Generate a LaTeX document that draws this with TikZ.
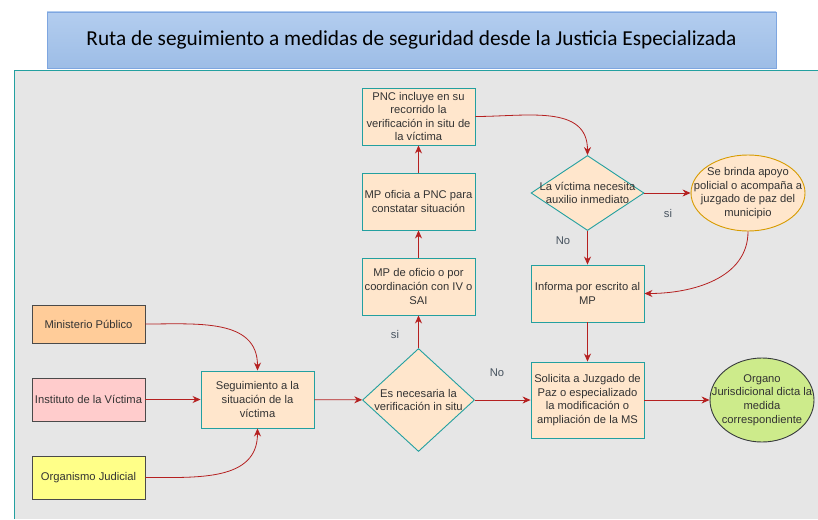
\documentclass[tikz,border=0pt]{standalone}
\usepackage{fontspec}
\setmainfont{Liberation Sans}
\newfontfamily\titlefont{Carlito}
\usetikzlibrary{arrows.meta,shapes.geometric}
\definecolor{peach}{HTML}{FFE6CC}
\definecolor{tealb}{HTML}{23A0A0}
\definecolor{arr}{HTML}{B52020}
\definecolor{txt}{HTML}{333333}
\definecolor{dk}{HTML}{4A4A4A}
\definecolor{bgg}{HTML}{E6E6E6}
\definecolor{mpfill}{HTML}{FFCC99}
\definecolor{ivfill}{HTML}{FFCCCC}
\definecolor{ojfill}{HTML}{FFFF88}
\definecolor{orgfill}{HTML}{CDEB8B}
\definecolor{orgdraw}{HTML}{36393D}
\definecolor{elldraw}{HTML}{D79B00}
\definecolor{titletop}{HTML}{B3CDEF}
\definecolor{titlebot}{HTML}{9DBDE6}
\definecolor{titledraw}{HTML}{7EA6E0}
\definecolor{yescol}{HTML}{46525E}
\tikzset{
  every node/.style={font=\fontsize{11.2}{13.6}\selectfont, text=txt, align=center},
  procbox/.style={draw=tealb, fill=peach, line width=0.9pt, minimum width=113pt, minimum height=57pt, inner sep=1pt},
  srcbox/.style={draw=dk, line width=0.9pt, minimum width=113pt, inner sep=1pt},
  dia/.style={diamond, draw=tealb, fill=peach, line width=0.9pt, inner sep=0pt, aspect=1},
  lab/.style={text=txt, inner sep=1pt},
  conn/.style={draw=arr, line width=0.8pt, -{Stealth[length=8pt,width=7pt]}},
  yes/.style={text=yescol, inner sep=0pt}
}
\begin{document}
\begin{tikzpicture}[x=1pt,y=-1pt]
\useasboundingbox (0,0) rectangle (818,519);
% background panel
\fill[bgg] (14,70) rectangle (818,519);
\draw[tealb, line width=1pt] (14,519) -- (14,70) -- (818,70);
% title
\node[draw=titledraw, line width=0.9pt, top color=titletop, bottom color=titlebot,
  minimum width=729pt, minimum height=56pt, font=\titlefont\fontsize{21.3}{24}\selectfont, text=black] (title) at (411.5,40) {Ruta de seguimiento a medidas de seguridad desde la Justicia Especializada};
% sources
\node[srcbox, fill=mpfill, minimum height=38pt] (mp) at (88.5,324) {Ministerio Público};
\node[srcbox, fill=ivfill, minimum height=43pt] (iv) at (88.5,399.5) {Instituto de la Víctima};
\node[srcbox, fill=ojfill, minimum height=43pt] (oj) at (88.5,477.5) {Organismo Judicial};
% process
\node[procbox] (seg) at (257.5,399.5) {Seguimiento a la\\situación de la\\víctima};
\node[dia, minimum width=112pt, minimum height=103pt, label={[lab]center:{Es necesaria la\\verificación in situ}}] (d1) at (418.5,400) {};
\node[procbox] (mpo) at (418.5,286.5) {MP de oficio o por\\coordinación con IV o\\SAI};
\node[procbox] (mpp) at (418.5,201.5) {MP oficia a PNC para\\constatar situación};
\node[procbox] (pnc) at (418.5,116.5) {PNC incluye en su\\recorrido la\\verificación in situ de\\la víctima};
\node[dia, minimum width=113pt, minimum height=75pt, aspect=1.5, label={[lab]center:{La víctima necesita\\auxilio inmediato}}] (d2) at (587.5,193) {};
\node[ellipse, draw=elldraw, fill=peach, line width=0.9pt, minimum width=114pt, minimum height=76pt, inner sep=0pt,
  label={[lab]center:{Se brinda apoyo\\policial o acompaña a\\juzgado de paz del\\municipio}}] (ell) at (748,193) {};
\node[procbox] (inf) at (587.5,293.5) {Informa por escrito al\\MP};
\node[procbox, minimum height=76pt] (sol) at (587.5,400) {Solicita a Juzgado de\\Paz o especializado\\la modificación o\\ampliación de la MS};
\node[ellipse, draw=orgdraw, fill=orgfill, line width=0.9pt, minimum width=104pt, minimum height=84pt, inner sep=0pt,
  label={[lab]center:{Organo\\Jurisdicional dicta la\\medida\\correspondiente}}] (org) at (762,400) {};
% connectors
\draw[conn] (mp.east) to[out=0,in=90,looseness=1.1] (seg.north);
\draw[conn] (iv) -- (seg);
\draw[conn] (oj.east) to[out=0,in=-90,looseness=1.1] (seg.south);
\draw[conn] (seg) -- (d1);
\draw[conn] (d1.north) -- (mpo.south);
\draw[conn] (mpo) -- (mpp);
\draw[conn] (mpp) -- (pnc);
\draw[conn] (pnc.east) to[out=0,in=90,looseness=1.1] (d2.north);
\draw[conn] (d2.east) -- (ell.west);
\draw[conn] (d2.south) -- (inf.north);
\draw[conn] (ell.south) to[out=-90,in=0,looseness=1.0] (inf.east);
\draw[conn] (inf) -- (sol);
\draw[conn] (d1.east) -- (sol.west);
\draw[conn] (sol) -- (org);
% branch labels
\node[yes] (s1) at (395,334) {si};
\node[yes] (n1) at (497,373) {No};
\node[yes] (s2) at (668,213) {si};
\node[yes] (n2) at (563,241) {No};
\end{tikzpicture}
\end{document}
